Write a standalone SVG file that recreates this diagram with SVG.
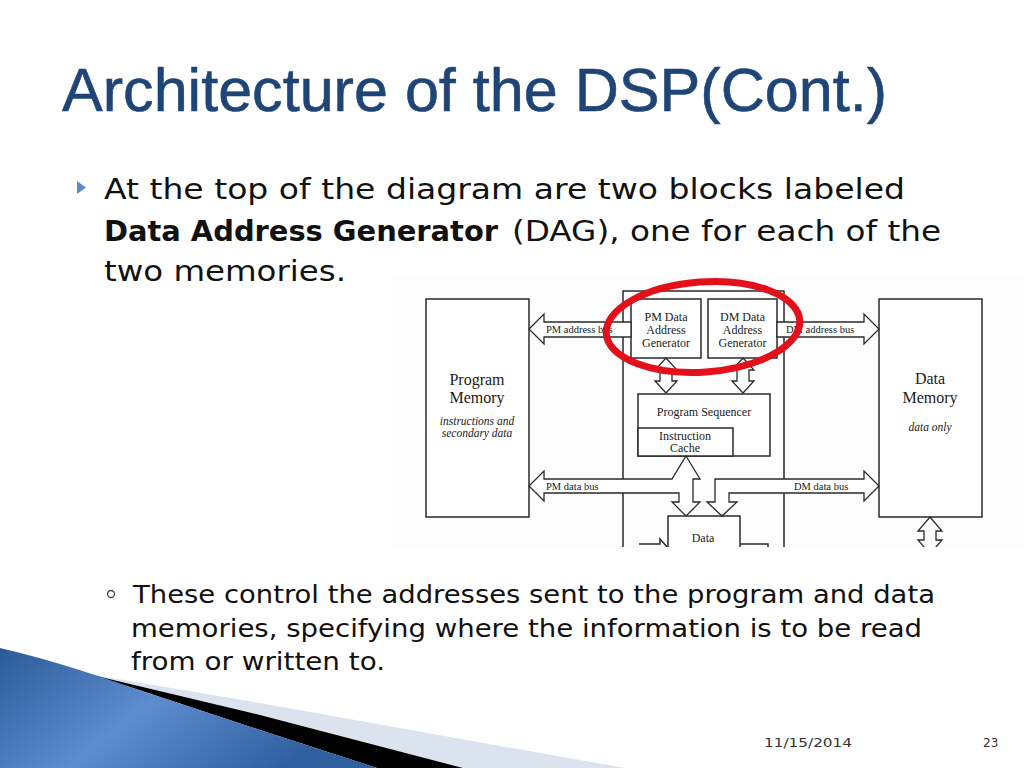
<svg xmlns="http://www.w3.org/2000/svg" width="1024" height="768" viewBox="0 0 1024 768">
<defs>
<style>
.title{font-family:"Liberation Sans",Arial,sans-serif;font-size:62px;fill:#1f4476;stroke:#1f4476;stroke-width:0.6}
.body{font-family:"DejaVu Sans","Liberation Sans",sans-serif;font-size:28px;fill:#111}
.bodyb{font-family:"DejaVu Sans","Liberation Sans",sans-serif;font-size:28px;font-weight:bold;fill:#111}
.sub{font-family:"DejaVu Sans","Liberation Sans",sans-serif;font-size:25px;fill:#111}
.foot{font-family:"DejaVu Sans","Liberation Sans",sans-serif;font-size:12px;fill:#333}
.box{fill:#fff;stroke:#2a2a2a;stroke-width:1.5}
.ln{fill:none;stroke:#2a2a2a;stroke-width:1.5}
.arr{fill:#fff;stroke:#2a2a2a;stroke-width:1.3;stroke-linejoin:miter}
.t{font-family:"Liberation Serif","Times New Roman",serif;fill:#1a1a1a;text-anchor:middle}
.s12{font-size:12px}
.s16{font-size:16px}
.lab{font-family:"Liberation Serif","Times New Roman",serif;font-size:10.5px;fill:#1a1a1a}
.it{font-style:italic;font-size:11.5px}
</style>
<linearGradient id="blue" x1="0" y1="0" x2="1" y2="0.4">
<stop offset="0" stop-color="#2b5a97"/>
<stop offset="0.5" stop-color="#5d8dcf"/>
<stop offset="1" stop-color="#2f5f9f"/>
</linearGradient>
<clipPath id="imgclip"><rect x="393" y="277" width="631" height="270"/></clipPath>
</defs>
<rect width="1024" height="768" fill="#fff"/>

<!-- Title -->
<text class="title" x="62" y="111" textLength="825" lengthAdjust="spacingAndGlyphs">Architecture of the DSP(Cont.)</text>

<!-- Bullet text -->
<polygon points="77,181 86,187.5 77,194" fill="#5b8cc8"/>
<text class="body" x="104" y="199" textLength="801" lengthAdjust="spacingAndGlyphs">At the top of the diagram are two blocks labeled</text>
<text class="bodyb" x="104" y="241" textLength="394" lengthAdjust="spacingAndGlyphs">Data Address Generator</text>
<text class="body" x="512" y="241" textLength="429" lengthAdjust="spacingAndGlyphs">(DAG), one for each of the</text>
<text class="body" x="104" y="281" textLength="242" lengthAdjust="spacingAndGlyphs">two memories.</text>

<!-- Sub bullet -->
<circle cx="111" cy="594" r="3.5" fill="none" stroke="#444" stroke-width="1.3"/>
<text class="sub" x="133" y="603" textLength="802" lengthAdjust="spacingAndGlyphs">These control the addresses sent to the program and data</text>
<text class="sub" x="131" y="637" textLength="791" lengthAdjust="spacingAndGlyphs">memories, specifying where the information is to be read</text>
<text class="sub" x="131" y="670" textLength="254" lengthAdjust="spacingAndGlyphs">from or written to.</text>

<!-- Diagram -->
<g id="diagram" clip-path="url(#imgclip)">
<rect x="393" y="277" width="631" height="270" fill="#fdfdfd"/>
<g id="frame"><polyline class="ln" points="623,547 623,291 784,291 784,547"/></g>

<g id="program-memory">
<rect class="box" x="426" y="299" width="103" height="218"/>
<text class="t s16" x="477" y="385">Program</text>
<text class="t s16" x="477" y="403">Memory</text>
<text class="t it" x="477" y="425">instructions and</text>
<text class="t it" x="477" y="437">secondary data</text>
</g>

<g id="data-memory">
<rect class="box" x="879" y="299" width="103" height="218"/>
<text class="t s16" x="930" y="384">Data</text>
<text class="t s16" x="930" y="403">Memory</text>
<text class="t it" x="930" y="431">data only</text>
</g>

<g id="pm-dag">
<rect class="box" x="631" y="299" width="70" height="59"/>
<text class="t s12" x="666" y="321">PM Data</text>
<text class="t s12" x="666" y="334">Address</text>
<text class="t s12" x="666" y="347">Generator</text>
</g>

<g id="dm-dag">
<rect class="box" x="708" y="299" width="69" height="59"/>
<text class="t s12" x="742.5" y="321">DM Data</text>
<text class="t s12" x="742.5" y="334">Address</text>
<text class="t s12" x="742.5" y="347">Generator</text>
</g>

<g id="program-sequencer">
<rect class="box" x="638" y="394" width="132" height="62"/>
<text class="t s12" x="704" y="416">Program Sequencer</text>
</g>

<g id="instruction-cache">
<rect class="box" x="638" y="428" width="95" height="28"/>
<text class="t s12" x="685" y="440">Instruction</text>
<text class="t s12" x="685" y="452">Cache</text>
</g>

<g id="data-block">
<rect class="box" x="668" y="516" width="72" height="60"/>
<text class="t s12" x="703" y="542">Data</text>
</g>

<g id="connectors">
<polygon class="arr" points="631,322 544,322 544,314 529,329 544,344 544,337 631,337"/>
<text class="lab" x="546" y="333">PM address bus</text>
<polygon class="arr" points="777,322 864,322 864,314 879,329 864,344 864,337 777,337"/>
<text class="lab" x="786" y="333">DM address bus</text>
<polygon class="arr" points="666,358 677,370 672,370 672,381 677,381 666,393 655,381 660,381 660,370 655,370"/>
<polygon class="arr" points="743,358 754,370 749,370 749,381 754,381 743,393 732,381 737,381 737,370 732,370"/>
<path class="arr" d="M686,456 L700,479 L693,479 L693,502 L700,502 L686,516 L672,502 L679,502 L679,493 L544,493 L544,501 L529,486 L544,471 L544,479 L672,479 Z"/>
<text class="lab" x="546" y="490">PM data bus</text>
<path class="arr" d="M879,486 L864,471 L864,479 L715,479 L715,502 L707,502 L722,516 L737,502 L729,502 L729,493 L864,493 L864,501 Z"/>
<text class="lab" x="794" y="490">DM data bus</text>
<polygon class="arr" points="930,517 942,531 936,531 936,540 942,540 930,554 918,540 924,540 924,531 918,531"/>
<polyline class="ln" points="639,544 660,544 660,539 668,548"/>
<polyline class="ln" points="740,544 768,544 768,550"/>
</g>

<ellipse id="highlight" cx="703" cy="327" rx="97" ry="45" transform="rotate(-4 703 327)" fill="none" stroke="#e3101c" stroke-width="7"/>
</g>

<!-- Bottom-left decoration -->
<polygon points="100,676 260,703 540,753 625,768 463,768 260,715 63,668" fill="#dbe3ef"/>
<polygon points="63,668 260,715 463,768 377,768 260,730 130,687" fill="#000"/>
<path d="M0,648 Q60,662 130,687 L260,730 L377,768 L0,768 Z" fill="url(#blue)"/>

<!-- Footer -->
<text class="foot" x="764" y="747" textLength="88" lengthAdjust="spacingAndGlyphs">11/15/2014</text>
<text class="foot" x="983" y="747">23</text>
</svg>
